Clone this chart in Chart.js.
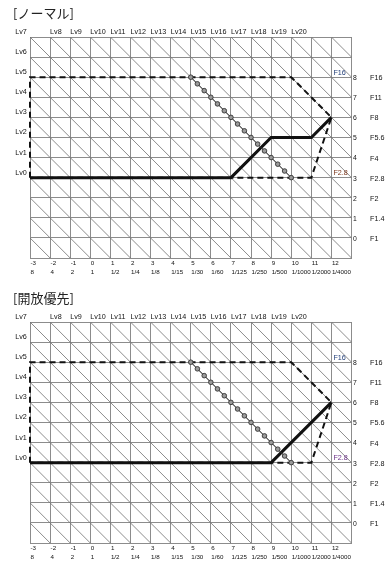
<!DOCTYPE html>
<html><head><meta charset="utf-8">
<script src="https://cdn.jsdelivr.net/npm/chart.js@4"></script>
<style>
html,body{margin:0;padding:0;background:#fff;width:390px;height:569px;overflow:hidden;}
.panel{position:absolute;left:0;width:390px;height:285px;}
.title{position:absolute;left:13px;top:5px;font:13px "Noto Sans CJK JP";color:#222;line-height:16px;white-space:nowrap;}
canvas{position:absolute;left:0;top:0;}
</style></head><body>
<div class="panel" style="top:0"><canvas id="c1" width="390" height="285"></canvas><div class="title" id="t1"></div></div>
<div class="panel" style="top:285px"><canvas id="c2" width="390" height="285"></canvas><div class="title" id="t2"></div></div>
<script>
// ---- data ----
const panelTitles = ['[ノーマル]', '[開放優先]'];
const evValues = [-3, -2, -1, 0, 1, 2, 3, 4, 5, 6, 7, 8, 9, 10, 11, 12];
const shutterLabels = ['8', '4', '2', '1', '1/2', '1/4', '1/8', '1/15', '1/30', '1/60', '1/125', '1/250', '1/500', '1/1000', '1/2000', '1/4000'];
const avValues = [0, 1, 2, 3, 4, 5, 6, 7, 8];
const apertureLabels = ['F1', 'F1.4', 'F2', 'F2.8', 'F4', 'F5.6', 'F8', 'F11', 'F16'];
const topLvPos = [-2, -1, 0, 1, 2, 3, 4, 5, 6, 7, 8, 9, 10];
const topLvLabels = ['Lv8', 'Lv9', 'Lv10', 'Lv11', 'Lv12', 'Lv13', 'Lv14', 'Lv15', 'Lv16', 'Lv17', 'Lv18', 'Lv19', 'Lv20'];
const leftLvPos = [3, 4, 5, 6, 7, 8, 9, 10];
const leftLvLabels = ['Lv0', 'Lv1', 'Lv2', 'Lv3', 'Lv4', 'Lv5', 'Lv6', 'Lv7'];
// limit polygon (dashed)
const limitX = [-3, -3, 10, 12, 11, -3];
const limitY = [3, 8, 8, 6, 3, 3];
// program lines (thick solid)
const normalX = [-3, 7, 9, 11, 12];
const normalY = [3, 3, 5, 5, 6];
const openX = [-3, 9, 12];
const openY = [3, 3, 6];
// beaded line (1/3 step markers)
const beadX = [5, 5.33, 5.67, 6, 6.33, 6.67, 7, 7.33, 7.67, 8, 8.33, 8.67, 9, 9.33, 9.67, 10];
const beadY = [8, 7.67, 7.33, 7, 6.67, 6.33, 6, 5.67, 5.33, 5, 4.67, 4.33, 4, 3.67, 3.33, 3];
// in-plot labels
const maxApLabel = {text: 'F16', x: 12.1, y: 8.22};
const minApLabel = {text: 'F2.8', x: 12.1, y: 3.23};

const zip = (xs, ys) => xs.map((x, i) => ({x: x, y: ys[i]}));

const diagPlugin = {
  id: 'diag',
  beforeDatasetsDraw(chart) {
    const {ctx, chartArea: a, scales: {x: sx, y: sy}} = chart;
    ctx.save();
    ctx.beginPath(); ctx.rect(a.left, a.top, a.right - a.left, a.bottom - a.top); ctx.clip();
    ctx.strokeStyle = '#6e6e6e'; ctx.lineWidth = 0.8;
    for (let c = sx.min + sy.min; c <= sx.max + sy.max; c++) {
      ctx.beginPath();
      ctx.moveTo(sx.getPixelForValue(c - sy.max), sy.getPixelForValue(sy.max));
      ctx.lineTo(sx.getPixelForValue(c - sy.min), sy.getPixelForValue(sy.min));
      ctx.stroke();
    }
    ctx.restore();
  }
};

function labelPlugin(apColor) {
  return {
    id: 'labels',
    afterDraw(chart) {
      const {ctx, scales: {x: sx, y: sy}} = chart;
      ctx.save();
      ctx.fillStyle = '#111';
      ctx.textBaseline = 'middle';
      ctx.font = '7.2px "Liberation Sans"';
      ctx.textAlign = 'left';
      topLvPos.forEach((v, i) => ctx.fillText(topLvLabels[i], sx.getPixelForValue(v), sy.top - 5));
      ctx.textAlign = 'center';
      leftLvPos.forEach((v, i) => ctx.fillText(leftLvLabels[i], sx.left - 9, sy.getPixelForValue(v) - 5));
      ctx.textAlign = 'left';
      ctx.font = '6.8px "Liberation Sans"';
      avValues.forEach((v) => ctx.fillText(String(v), sx.right + 1.5, sy.getPixelForValue(v) + 1));
      ctx.font = '7.2px "Liberation Sans"';
      avValues.forEach((v, i) => ctx.fillText(apertureLabels[i], sx.right + 18.5, sy.getPixelForValue(v) + 1));
      ctx.font = '6.2px "Liberation Sans"';
      evValues.forEach((v, i) => {
        ctx.fillText(String(v), sx.getPixelForValue(v) + 0.5, sy.bottom + 5);
        ctx.fillText(shutterLabels[i], sx.getPixelForValue(v) + 0.5, sy.bottom + 14);
      });
      ctx.font = '7.2px "Liberation Sans"';
      ctx.fillStyle = '#24407a';
      ctx.fillText(maxApLabel.text, sx.getPixelForValue(maxApLabel.x), sy.getPixelForValue(maxApLabel.y));
      ctx.fillStyle = apColor;
      ctx.fillText(minApLabel.text, sx.getPixelForValue(minApLabel.x), sy.getPixelForValue(minApLabel.y));
      ctx.restore();
    }
  };
}

function makeChart(id, progX, progY, apColor) {
  new Chart(document.getElementById(id), {
    type: 'line',
    data: {
      datasets: [
        {data: zip(progX, progY), borderColor: '#111', borderWidth: 3, pointRadius: 0, tension: 0, order: 1, clip: 3},
        {data: zip(limitX, limitY), borderColor: '#111', borderWidth: 2, borderDash: [6, 4], pointRadius: 0, tension: 0, order: 2, clip: 3},
        {data: zip(beadX, beadY), borderColor: '#333', borderWidth: 1, pointRadius: 2.3, pointBackgroundColor: '#9a9a9a', pointBorderColor: '#333', pointBorderWidth: 0.9, tension: 0, order: 0}
      ]
    },
    options: {
      responsive: false, devicePixelRatio: 1, animation: false,
      layout: {padding: {left: 30, right: 38.5, top: 37, bottom: 27}},
      plugins: {legend: {display: false}, tooltip: {enabled: false}},
      scales: {
        x: {type: 'linear', min: -3, max: 13,
            ticks: {display: false, stepSize: 1},
            grid: {color: '#8c8c8c', lineWidth: 1, drawTicks: false},
            border: {color: '#8c8c8c'}},
        y: {type: 'linear', min: -1, max: 10,
            ticks: {display: false, stepSize: 1},
            grid: {color: '#8c8c8c', lineWidth: 1, drawTicks: false},
            border: {color: '#8c8c8c'}}
      }
    },
    plugins: [diagPlugin, labelPlugin(apColor)]
  });
}

document.getElementById('t1').textContent = panelTitles[0];
document.getElementById('t2').textContent = panelTitles[1];
makeChart('c1', normalX, normalY, '#7a3418');
makeChart('c2', openX, openY, '#6a2e86');
</script>
</body></html>
